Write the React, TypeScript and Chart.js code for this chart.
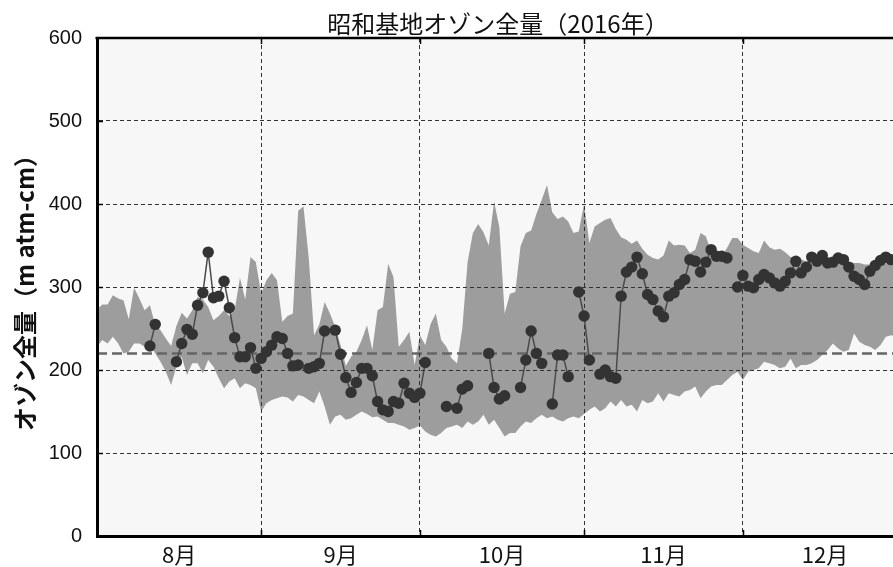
import React, { useEffect, useRef } from "react";
import { Chart, registerables } from "chart.js";

Chart.register(...registerables);

const TITLE = "昭和基地オゾン全量（2016年）";
const Y_TITLE = "オゾン全量（m atm-cm）";
const MONTH_LABELS = ["8月", "9月", "10月", "11月", "12月"];
// day offsets from Aug 1 of each month start (Aug..Dec) and end of Dec
const MONTH_STARTS = [0, 31, 61, 92, 122, 153];
const Y_TICKS = [0, 100, 200, 300, 400, 500, 600];
const REF_LEVEL = 220;

// daily upper edge of the climatological range (Aug 1 .. Dec 31)
const upper = [
  273, 279, 279, 290, 286, 284, 261, 299, 286, 272, 278, 254, 248, 238, 229, 253, 269, 262, 272, 288, 285, 276, 260, 265, 272, 265, 272, 311, 285, 336, 330,
  292, 308, 317, 308, 258, 265, 268, 392, 397, 335, 242, 255, 282, 268, 252, 230, 205, 216, 222, 236, 254, 224, 272, 276, 328, 312, 228, 236, 246, 206,
  242, 230, 255, 268, 236, 228, 214, 208, 250, 330, 365, 376, 366, 350, 403, 372, 268, 292, 294, 349, 365, 368, 388, 405, 423, 390, 382, 385, 379, 365, 367,
  400, 353, 373, 377, 381, 383, 370, 360, 357, 352, 356, 346, 339, 335, 333, 338, 356, 350, 351, 350, 341, 345, 365, 361, 343, 343, 337, 347, 359, 359,
  351, 347, 343, 341, 356, 348, 345, 346, 342, 336, 333, 333, 331, 329, 333, 329, 333, 331, 333, 333, 330, 329, 329, 327, 327, 326, 325, 328, 334, 337, 340,
];

// daily lower edge of the climatological range
const lower = [
  228, 236, 232, 240, 232, 220, 222, 232, 232, 228, 230, 220, 210, 198, 182, 204, 216, 194, 208, 208, 196, 212, 204, 190, 178, 186, 190, 178, 184, 182, 178,
  150, 160, 164, 166, 168, 167, 162, 170, 168, 164, 160, 174, 156, 134, 144, 146, 140, 142, 146, 150, 147, 143, 144, 140, 136, 136, 134, 132, 128, 130,
  133, 126, 122, 120, 124, 130, 132, 134, 130, 138, 134, 138, 146, 134, 140, 130, 120, 124, 124, 132, 138, 136, 142, 146, 142, 144, 140, 138, 142, 144, 142,
  147, 152, 156, 150, 154, 162, 156, 164, 156, 158, 150, 164, 160, 162, 172, 162, 172, 170, 168, 174, 176, 180, 166, 174, 180, 182, 182, 188, 194, 198,
  188, 198, 200, 202, 210, 208, 206, 202, 204, 214, 202, 206, 206, 208, 212, 218, 224, 232, 226, 222, 224, 244, 234, 230, 228, 224, 230, 240, 242, 240, 242,
];

// daily observed total ozone, 2016 (null = no observation)
const observed = [
  null, null, null, null, null, null, null, null, null, null, 229, 255, null, null, null, 210, 232, 249, 243, 278, 293, 342, 287, 289, 307, 275, 239, 216, 216, 227, 202,
  214, 222, 230, 240, 238, 220, 205, 206, null, 202, 204, 208, 247, null, 248, 219, 191, 173, 185, 202, 202, 193, 162, 152, 150, 162, 160, 184, 172, 167,
  172, 209, null, null, null, 156, null, 154, 177, 181, null, null, null, 220, 179, 165, 169, null, null, 179, 212, 247, 220, 208, null, 159, 218, 218, 192, null, 294,
  265, 212, null, 195, 200, 192, 190, 289, 318, 324, 336, 316, 291, 285, 271, 264, 289, 293, 303, 309, 333, 331, 318, 330, 345, 337, 337, 335, null, 300,
  314, 301, 299, 309, 315, 311, 305, 301, 307, 317, 331, 317, 324, 336, 331, 338, 329, 330, 335, 333, 324, 313, 309, 303, 319, 326, 332, 336, 333, null, null,
];

const toPoints = (arr: (number | null)[]) => arr.map((v, i) => ({ x: i, y: v }));

export default function App() {
  const ref = useRef<HTMLCanvasElement | null>(null);

  useEffect(() => {
    if (!ref.current) return;
    const boundaries = MONTH_STARTS.slice(1, 5);
    const mids = MONTH_LABELS.map((_, i) => (MONTH_STARTS[i] + MONTH_STARTS[i + 1]) / 2);
    const xTicks = [...boundaries, ...mids].sort((a, b) => a - b);

    const framePlugin = {
      id: "frame",
      beforeDraw(chart: any) {
        const { ctx, chartArea: a } = chart;
        ctx.save();
        ctx.fillStyle = "#f7f7f7";
        ctx.fillRect(a.left, a.top, a.right - a.left, a.bottom - a.top);
        ctx.restore();
      },
      afterDraw(chart: any) {
        const { ctx, chartArea: a, scales } = chart;
        ctx.save();
        ctx.strokeStyle = "#000";
        ctx.lineWidth = 2.5;
        ctx.beginPath();
        ctx.moveTo(a.left - 1.5, a.top);
        ctx.lineTo(a.right, a.top);
        ctx.stroke();
        ctx.lineWidth = 1.5;
        boundaries.forEach((v) => {
          const px = Math.round(scales.x.getPixelForValue(v)) + 0.5;
          ctx.beginPath();
          ctx.moveTo(px, a.bottom);
          ctx.lineTo(px, a.bottom - 6);
          ctx.moveTo(px, a.top);
          ctx.lineTo(px, a.top + 6);
          ctx.stroke();
        });
        Y_TICKS.slice(1, 6).forEach((v) => {
          const py = Math.round(scales.y.getPixelForValue(v)) + 0.5;
          ctx.beginPath();
          ctx.moveTo(a.left, py);
          ctx.lineTo(a.left + 6, py);
          ctx.stroke();
        });
        ctx.restore();
      },
    };

    const chart = new Chart(ref.current, {
      type: "line",
      data: {
        datasets: [
          {
            label: "observed",
            data: toPoints(observed),
            borderColor: "#4a4a4a",
            borderWidth: 1.5,
            pointRadius: 5.7,
            pointBackgroundColor: "#333",
            pointBorderColor: "#333",
            pointBorderWidth: 0,
            fill: false,
            spanGaps: false,
            order: 0,
          },
          {
            label: "ref",
            data: [
              { x: MONTH_STARTS[0], y: REF_LEVEL },
              { x: MONTH_STARTS[5], y: REF_LEVEL },
            ],
            borderColor: "#666",
            borderWidth: 2.5,
            borderDash: [10, 5],
            pointRadius: 0,
            fill: false,
            order: 1,
          },
          {
            label: "upper",
            data: toPoints(upper),
            borderColor: "rgba(0,0,0,0)",
            borderWidth: 0,
            backgroundColor: "#9d9d9d",
            pointRadius: 0,
            fill: "+1",
            order: 2,
          },
          {
            label: "lower",
            data: toPoints(lower),
            borderColor: "rgba(0,0,0,0)",
            borderWidth: 0,
            pointRadius: 0,
            fill: false,
            order: 3,
          },
        ] as any,
      },
      options: {
        animation: false,
        responsive: false,
        layout: { padding: 0 },
        plugins: {
          legend: { display: false },
          tooltip: { enabled: false },
          title: {
            display: true,
            text: TITLE,
            color: "#111",
            font: { family: "'Noto Sans CJK JP'", size: 24, weight: "normal", lineHeight: 1.15 },
            padding: { top: 10, bottom: 0.4 },
          },
        },
        scales: {
          x: {
            type: "linear",
            min: MONTH_STARTS[0],
            max: MONTH_STARTS[5],
            afterBuildTicks: (s: any) => {
              s.ticks = xTicks.map((v) => ({ value: v }));
            },
            grid: {
              color: (ctx: any) =>
                ctx.tick && boundaries.includes(ctx.tick.value) ? "#333" : "rgba(0,0,0,0)",
              lineWidth: 1,
              drawTicks: false,
              z: 1,
            },
            border: { color: "#000", width: 3, dash: [4, 3], z: 2 },
            ticks: {
              autoSkip: false,
              maxRotation: 0,
              padding: 5,
              color: "#111",
              font: { family: "'Noto Sans CJK JP'", size: 22 },
              callback: (v: any) => {
                const i = mids.indexOf(Number(v));
                return i >= 0 ? MONTH_LABELS[i] : "";
              },
            },
            afterFit: (s: any) => {
              s.height = 31;
            },
          },
          y: {
            type: "linear",
            min: 0,
            max: 600,
            afterBuildTicks: (s: any) => {
              s.ticks = Y_TICKS.map((v) => ({ value: v }));
            },
            grid: {
              color: (ctx: any) =>
                ctx.tick && ctx.tick.value > 0 && ctx.tick.value < 600 ? "#333" : "rgba(0,0,0,0)",
              lineWidth: 1,
              drawTicks: false,
              z: 1,
            },
            border: { color: "#000", width: 3, dash: [4, 3], z: 2 },
            ticks: {
              padding: 15,
              color: "#111",
              font: { family: "'Liberation Sans', Arial, sans-serif", size: 20 },
            },
            title: {
              display: true,
              text: Y_TITLE,
              color: "#111",
              font: { family: "'Noto Sans CJK JP'", size: 24, weight: "bold" },
              padding: { top: 10, bottom: 0 },
            },
            afterFit: (s: any) => {
              s.width = 97;
            },
          },
          yr: {
            type: "linear",
            position: "right",
            display: true,
            min: 0,
            max: 1,
            grid: { display: false, drawTicks: false },
            border: { display: false },
            ticks: { display: false },
            afterFit: (s: any) => {
              s.width = 89;
            },
          },
        },
      } as any,
      plugins: [framePlugin],
    });
    return () => chart.destroy();
  }, []);

  return (
    <div
      style={{
        position: "fixed",
        left: 0,
        top: 0,
        width: 893,
        height: 567,
        overflow: "hidden",
        background: "#fff",
      }}
    >
      <canvas ref={ref} width={996} height={567} style={{ display: "block" }} />
    </div>
  );
}
